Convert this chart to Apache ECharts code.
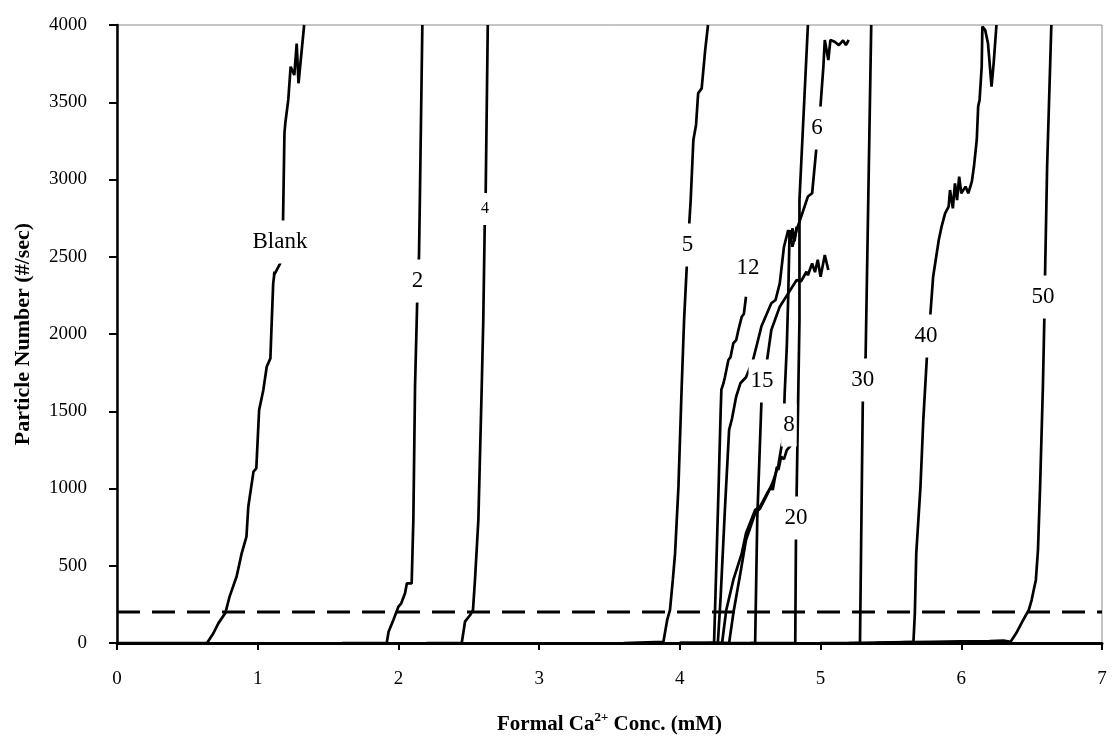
<!DOCTYPE html>
<html>
<head>
<meta charset="utf-8">
<script src="https://cdn.jsdelivr.net/npm/echarts@6/dist/echarts.min.js"></script>
<style>html,body{margin:0;padding:0;background:#fff;}#c{width:1112px;height:742px;}</style>
</head>
<body>
<div id="c"></div>
<script>
// ---- data (x = formal Ca2+ conc in mM, y = particle number #/sec) ----
const xTicks = [0, 1, 2, 3, 4, 5, 6, 7];
const yTicks = [0, 500, 1000, 1500, 2000, 2500, 3000, 3500, 4000];
const threshold = 200;

const curveBlank = [[0.0,0],[0.64,0],[0.685,63],[0.72,127],[0.77,194],[0.80,300],[0.85,430],[0.886,580],[0.92,688],[0.933,882],[0.97,1109],[0.99,1130],[1.01,1508],[1.04,1638],[1.064,1788],[1.09,1842],[1.1,2090],[1.11,2328],[1.12,2403],[1.115,2380],[1.16,2457],[1.18,2738],[1.19,3300],[1.196,3364],[1.217,3515],[1.234,3730],[1.26,3676],[1.277,3880],[1.29,3623],[1.33,4000]];
const curve2 = [[1.6,0],[1.917,0],[1.93,73],[1.964,149],[2.0,235],[2.02,257],[2.047,322],[2.06,386],[2.094,386],[2.106,796],[2.118,1659],[2.13,2090],[2.137,2340],[2.146,2500],[2.153,2910],[2.17,4000]];
const curve4 = [[2.2,0],[2.45,0],[2.473,138],[2.51,181],[2.53,214],[2.544,408],[2.568,796],[2.58,1228],[2.592,1659],[2.603,2090],[2.615,2807],[2.62,2912],[2.635,4000]];
const curve5 = [[3.6,0],[3.883,8],[3.91,149],[3.93,214],[3.95,408],[3.966,580],[3.99,1012],[4.013,1659],[4.03,2090],[4.049,2436],[4.067,2716],[4.077,2867],[4.096,3256],[4.115,3353],[4.13,3558],[4.155,3590],[4.18,3838],[4.2,4000]];
const curve12 = [[4.0,0],[4.243,0],[4.25,214],[4.275,1000],[4.29,1500],[4.295,1640],[4.31,1681],[4.32,1720],[4.345,1832],[4.36,1850],[4.38,1940],[4.40,1960],[4.416,2026],[4.44,2112],[4.455,2130],[4.47,2241]];
const curve6 = [[4.0,0],[4.27,0],[4.29,300],[4.32,861],[4.35,1379],[4.37,1450],[4.40,1594],[4.43,1681],[4.47,1720],[4.52,1832],[4.55,1940],[4.58,2050],[4.65,2199],[4.68,2220],[4.71,2328],[4.74,2565],[4.77,2673],[4.785,2620],[4.80,2565],[4.83,2673],[4.87,2781],[4.91,2890],[4.94,2911],[4.97,3202],[5.0,3482],[5.02,3730],[5.03,3903],[5.055,3773],[5.07,3903],[5.10,3892],[5.13,3870],[5.16,3900],[5.18,3870],[5.2,3903]];
const curve8 = [[4.0,0],[4.30,0],[4.33,214],[4.38,408],[4.44,580],[4.47,710],[4.535,861],[4.57,882],[4.62,969],[4.65,1012],[4.66,990],[4.69,1141],[4.70,1120],[4.72,1206],[4.74,1190],[4.76,1249],[4.78,1270],[4.80,1292],[4.81,1310]];
const curveSteep = [[4.0,0],[4.35,0],[4.38,192],[4.43,451],[4.47,667],[4.535,840],[4.57,870],[4.62,960],[4.66,1040],[4.70,1150],[4.72,1260],[4.735,1330],[4.745,1616],[4.76,1918],[4.77,2241],[4.78,2673],[4.79,2600],[4.80,2684],[4.815,2600],[4.83,2695]];
const curve15 = [[4.2,0],[4.535,0],[4.55,800],[4.58,1570],[4.59,1700],[4.62,1832],[4.65,2026],[4.71,2177],[4.77,2263],[4.83,2350],[4.86,2340],[4.90,2403],[4.91,2380],[4.94,2457],[4.96,2400],[4.98,2480],[5.0,2371],[5.03,2511],[5.055,2414]];
const curve20 = [[4.5,0],[4.82,0],[4.826,800],[4.83,969],[4.85,2090],[4.85,2867],[4.91,4000]];
const curve30 = [[5.0,0],[5.28,0],[5.30,1560],[5.31,1700],[5.32,1850],[5.36,4000]];
const curve40 = [[5.4,0],[5.66,8],[5.67,192],[5.68,580],[5.71,1012],[5.73,1443],[5.755,1842],[5.78,2123],[5.80,2371],[5.84,2608],[5.86,2695],[5.885,2781],[5.91,2824],[5.92,2932],[5.94,2813],[5.955,2975],[5.97,2867],[5.985,3018],[6.0,2911],[6.03,2954],[6.05,2911],[6.075,2986],[6.09,3084],[6.11,3256],[6.12,3472],[6.13,3515],[6.145,3730],[6.15,3990],[6.17,3967],[6.19,3880],[6.215,3601],[6.23,3752],[6.25,4000]];
const curve50 = [[5.2,0],[5.5,5],[5.8,8],[6.0,10],[6.2,12],[6.3,15],[6.35,8],[6.39,63],[6.44,149],[6.48,214],[6.50,278],[6.51,322],[6.53,408],[6.545,602],[6.56,1012],[6.58,1659],[6.59,2090],[6.595,2371],[6.61,3084],[6.64,4000]];

const labelNames = ['Blank','2','4','5','12','6','15','8','20','30','40','50'];
const labelX = [1.158, 2.135, 2.615, 4.055, 4.485, 4.975, 4.584, 4.775, 4.826, 5.30, 5.75, 6.58];
const labelY = [2595, 2343, 2809, 2576, 2427, 3333, 1696, 1411, 809, 1702, 1987, 2239];

// ---- chart ----
const curves = [curveBlank, curve2, curve4, curve5, curve12, curve6, curve8, curveSteep, curve15, curve20, curve30, curve40, curve50];
const serif = 'Liberation Serif';
const series = curves.map((d, i) => ({
  type: 'line', data: d, symbol: 'none', silent: true, z: 3,
  lineStyle: { color: '#000', width: 2.7 }
}));
series.push({
  type: 'line', data: [[0, threshold], [7, threshold]], symbol: 'none', silent: true, z: 2,
  lineStyle: { color: '#000', width: 3, type: [23, 12] }
});
series.push({
  type: 'scatter', symbolSize: 0, z: 10, silent: true,
  itemStyle: { opacity: 1, color: '#fff' },
  data: labelNames.map((n, i) => ({
    value: [labelX[i], labelY[i]], name: n,
    label: n === '4' ? { fontSize: 16, padding: [8, 2, 8, 2] } : {}
  })),
  label: {
    show: true, position: 'inside', formatter: p => p.name,
    fontFamily: serif, fontSize: 23, color: '#000', opacity: 1,
    backgroundColor: '#fff', padding: [10, 2, 10, 2]
  }
});

const chart = echarts.init(document.getElementById('c'));
chart.setOption({
  animation: false,
  backgroundColor: '#fff',
  grid: { left: 117, right: 10, top: 25, bottom: 99, show: true, borderColor: '#8a8a8a', borderWidth: 1 },
  xAxis: {
    type: 'value', min: 0, max: 7, interval: 1,
    name: '{b|Formal Ca}{s|2+}{b| Conc. (mM)}', nameLocation: 'middle', nameGap: 68,
    nameTextStyle: {
      rich: {
        b: { fontFamily: serif, fontSize: 21, fontWeight: 'bold', color: '#000', lineHeight: 24, verticalAlign: 'bottom' },
        s: { fontFamily: serif, fontSize: 13, fontWeight: 'bold', color: '#000', lineHeight: 24, verticalAlign: 'top', padding: [0, 0, 6, 0] }
      }
    },
    axisLine: { onZero: false, lineStyle: { color: '#000', width: 3 } },
    axisTick: { inside: false, length: 7, lineStyle: { color: '#000', width: 2 } },
    axisLabel: { fontFamily: serif, fontSize: 19, color: '#000', margin: 27, formatter: v => String(v) },
    splitLine: { show: false }
  },
  yAxis: {
    type: 'value', min: 0, max: 4000, interval: 500,
    name: 'Particle Number (#/sec)', nameLocation: 'middle', nameGap: 83,
    nameTextStyle: { fontFamily: serif, fontSize: 22, fontWeight: 'bold', color: '#000' },
    axisLine: { show: true, lineStyle: { color: '#000', width: 2.5 } },
    axisTick: { show: true, inside: false, length: 8, lineStyle: { color: '#000', width: 2 } },
    axisLabel: { fontFamily: serif, fontSize: 19, color: '#000', margin: 30, formatter: v => String(v) },
    splitLine: { show: false }
  },
  series: series
});
</script>
</body>
</html>
